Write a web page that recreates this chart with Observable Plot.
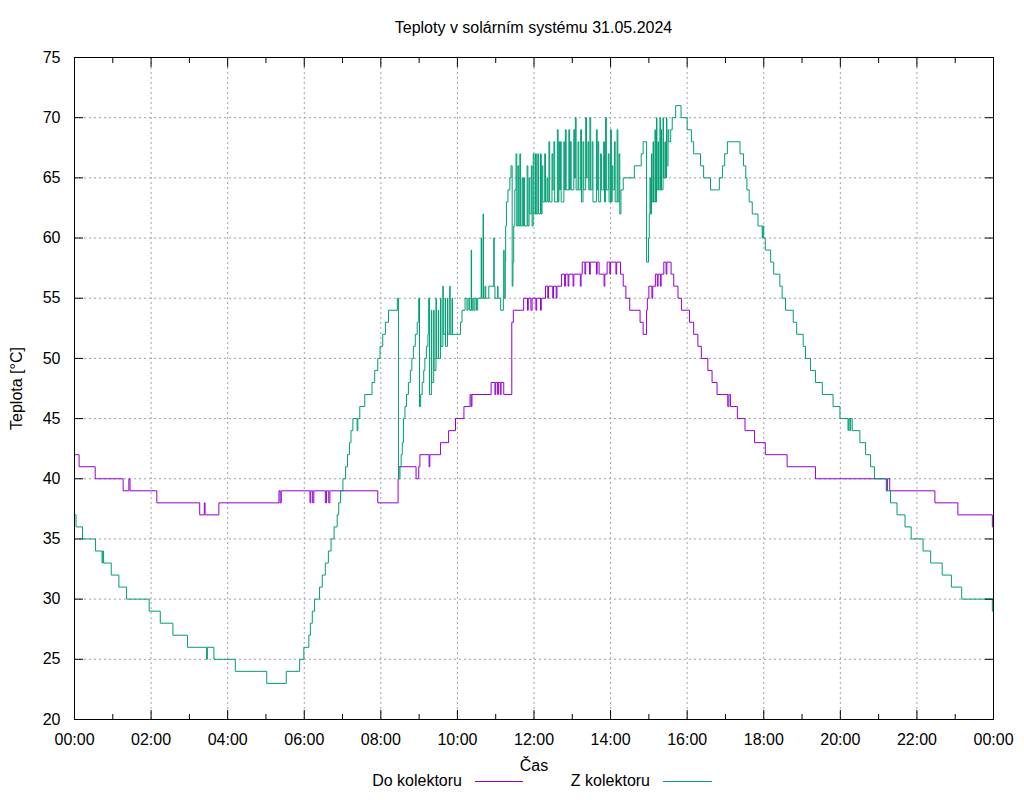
<!DOCTYPE html>
<html>
<head>
<meta charset="utf-8">
<script src="https://cdn.jsdelivr.net/npm/d3@7"></script>
<script src="https://cdn.jsdelivr.net/npm/@observablehq/plot@0.6"></script>
<style>
  body { margin: 0; background: #fff; font-family: "Liberation Sans", Arial, sans-serif; color: #000; }
  #title { width: 1024px; height: 45px; box-sizing: border-box; padding: 18px 31px 0 74px; line-height: 20px; font-size: 16px; text-align: center; }
  #legend { position: relative; width: 1024px; height: 25px; font-size: 16px; }
  #legend .lab { position: absolute; top: -3px; width: 140px; text-align: right; line-height: 18px; }
  #legend svg { position: absolute; top: 0; }
</style>
</head>
<body>
<div id="title">Teploty v solárním systému 31.05.2024</div>
<div id="chart"></div>
<div id="legend"></div>
<script>
const seriesNames = ["Do kolektoru", "Z kolektoru"];
const seriesColors = ["#9400d3", "#009e73"];
const hourTicks = [0, 2, 4, 6, 8, 10, 12, 14, 16, 18, 20, 22, 24];
const minorHourTicks = [1, 3, 5, 7, 9, 11, 13, 15, 17, 19, 21, 23];
const tempTicks = [20, 25, 30, 35, 40, 45, 50, 55, 60, 65, 70, 75];

const doKolektoru = [
[0,42],[0.12,41],[0.54,40],[1.27,39],[1.42,40],[1.45,39],[2.15,38],[3.27,37],[3.39,38],[3.41,37],[3.77,38],
[5.34,39],[5.37,38],[5.40,39],[6.15,38],[6.17,39],[6.22,38],[6.25,39],[6.55,38],[6.58,39],[6.64,38],[6.67,39],
[7.92,38],[8.45,40],[8.47,41],[8.92,40],[8.99,41],[9.02,42],[9.26,41],[9.28,42],[9.56,43],[9.77,44],[9.95,45],
[10.17,46],[10.33,47],[10.36,46],[10.38,47],[10.88,48],[10.98,47],[11.00,48],[11.05,47],[11.07,48],[11.12,47],[11.14,48],[11.21,47],
[11.42,53],[11.46,54],[11.73,55],[11.83,54],[11.85,55],[11.92,54],[11.95,55],[12.05,54],[12.07,55],[12.17,54],[12.19,55],
[12.30,56],[12.36,55],[12.38,56],[12.49,55],[12.51,56],[12.58,55],[12.60,56],[12.72,57],[12.80,56],[12.82,57],[12.89,56],[12.91,57],
[13.02,56],[13.04,57],[13.21,56],[13.23,57],[13.26,58],[13.33,57],[13.35,58],[13.45,57],[13.47,58],[13.63,57],[13.65,58],[13.70,57],
[13.83,56],[13.85,57],[13.91,58],[13.98,57],[14.00,58],[14.14,57],[14.16,58],[14.26,57],[14.33,56],[14.40,55],[14.50,54],[14.77,53],[14.85,52],
[14.94,54],[14.96,55],[15.00,56],[15.08,55],[15.10,56],[15.17,57],[15.22,56],[15.24,57],[15.30,56],[15.32,57],[15.39,58],[15.45,57],[15.47,58],
[15.58,57],[15.65,56],[15.76,55],[15.85,54],[16.06,53],[16.17,52],[16.28,51],[16.37,50],[16.54,49],[16.65,48],[16.78,47],[17.06,46],[17.09,47],[17.13,46],
[17.31,45],[17.51,44],[17.76,43],[18.04,42],[18.61,41],[19.35,40],[21.20,39],[21.23,40],[21.29,39],[22.47,38],[23.07,37],[23.97,36],[24,36]
];

const zKolektoru = [
[0,37],[0.04,36],[0.21,35],[0.55,34],[0.72,33],[0.74,34],[0.76,33],[0.96,32],[1.16,31],[1.36,30],[1.95,29],[2.24,28],[2.57,27],[2.95,26],
[3.45,25],[3.47,26],[3.64,25],[4.20,24],[5.02,23],[5.53,24],[5.88,25],[5.99,26],[6.12,27],[6.16,28],[6.21,29],[6.27,30],[6.40,31],[6.47,32],
[6.55,33],[6.63,34],[6.70,35],[6.78,36],[6.86,37],[6.90,38],[6.95,39],[7.01,40],[7.08,41],[7.13,42],[7.18,43],[7.22,44],[7.27,45],[7.38,44],[7.40,45],
[7.45,46],[7.58,47],[7.77,48],[7.84,49],[7.92,50],[7.98,51],[8.05,52],[8.12,53],[8.20,54],[8.43,55],[8.46,40],
[8.50,41],[8.53,42],[8.56,43],[8.59,45],[8.63,46],[8.67,47],[8.72,48],[8.77,49],[8.81,50],[8.85,51],[8.90,52],[8.95,53],[8.99,55],[9.01,46],
[9.04,47],[9.08,48],[9.12,49],[9.15,50],[9.19,51],[9.23,52],[9.25,55],[9.27,47],[9.32,54],[9.33,48],[9.38,54],[9.39,49],
[9.44,55],[9.45,50],[9.50,54],[9.51,50],[9.56,55],[9.57,51],[9.62,56],[9.63,52],[9.68,55],[9.69,51],
[9.74,55],[9.75,52],[9.80,56],[9.81,52],[9.86,55],[9.87,52],
[10.08,53],[10.12,54],[10.20,55],[10.25,54],[10.28,55],[10.32,54],[10.36,59],[10.37,54],[10.40,55],[10.43,54],[10.46,55],[10.50,54],[10.53,55],
[10.62,60],[10.63,55],[10.67,62],[10.68,55],[10.72,56],[10.74,55],[10.82,56],[10.95,60],[10.96,56],[10.98,55],[11.05,56],[11.06,55],[11.13,54],
[11.20,55],[11.21,59],[11.22,55],[11.25,58],[11.26,61],[11.28,63],[11.32,64],[11.37,65],[11.40,66],[11.43,56],[11.45,58],[11.47,61],[11.50,64],[11.53,67],[11.55,61],
[11.58,66],[11.60,61],[11.63,67],[11.65,61],[11.69,65],[11.71,61],[11.73,65],[11.75,61],[11.82,66],[11.84,61],[11.87,65],[11.89,62],[11.93,66],[11.95,61],
[11.98,67],[12.00,62],[12.04,67],[12.06,62],[12.10,67],[12.12,62],[12.17,67],[12.19,62],[12.21,66],[12.23,63],[12.28,67],[12.30,63],[12.34,65],[12.36,63],
[12.39,68],[12.41,63],[12.47,67],[12.49,64],[12.52,68],[12.54,63],[12.61,69],[12.63,63],[12.65,68],[12.67,64],[12.69,68],[12.71,63],[12.78,68],[12.80,64],
[12.82,69],[12.84,64],[12.91,69],[12.93,64],[12.95,68],[12.97,64],[13.04,69],[13.06,65],[13.08,70],[13.10,64],[13.15,68],[13.17,64],[13.22,69],[13.24,63],
[13.28,68],[13.30,64],[13.35,70],[13.37,65],[13.41,68],[13.43,64],[13.46,70],[13.48,64],[13.52,68],[13.54,63],[13.63,69],[13.65,64],[13.67,68],[13.69,63],
[13.74,67],[13.76,64],[13.82,68],[13.84,63],[13.87,70],[13.89,64],[13.94,67],[13.96,63],[14.00,69],[14.02,63],[14.04,66],[14.06,64],[14.10,68],[14.12,63],
[14.17,69],[14.19,63],[14.22,67],[14.24,62],[14.27,64],[14.33,65],[14.62,66],[14.80,67],[14.85,68],[14.94,58],[14.99,60],[15.01,62],[15.03,65],[15.04,62],
[15.07,67],[15.08,63],[15.11,68],[15.12,63],[15.16,69],[15.17,63],[15.20,70],[15.21,64],[15.24,68],[15.25,64],[15.29,70],[15.30,64],[15.32,69],[15.33,64],
[15.37,70],[15.38,65],[15.42,68],[15.43,65],[15.46,70],[15.47,66],[15.50,69],[15.52,68],[15.57,69],[15.61,70],[15.70,71],[15.84,70],[16.00,69],[16.11,68],
[16.17,67],[16.35,66],[16.43,65],[16.61,64],[16.84,65],[16.92,66],[16.98,67],[17.05,68],[17.38,67],[17.47,66],[17.53,65],[17.56,64],[17.62,63],[17.70,62],
[17.85,61],[17.96,60],[17.98,61],[18.00,60],[18.04,59],[18.18,58],[18.26,57],[18.42,56],[18.48,55],[18.57,54],[18.77,53],[18.86,52],[19.03,51],[19.09,50],
[19.22,49],[19.35,48],[19.53,47],[19.81,46],[19.99,45],[20.20,44],[20.22,45],[20.25,44],[20.27,45],[20.31,44],[20.51,43],[20.66,42],[20.79,41],[20.89,40],
[21.21,39],[21.31,38],[21.48,37],[21.69,36],[21.85,35],[22.16,34],[22.36,33],[22.66,32],[22.90,31],[23.17,30],[23.97,29],[24,29]
];

const rows = [
  ...doKolektoru.map(([h, t]) => ({h, t, s: seriesNames[0]})),
  ...zKolektoru.map(([h, t]) => ({h, t, s: seriesNames[1]}))
];

const fmtHour = d => String(d % 24).padStart(2, "0") + ":00";
const noText = () => "";

const chart = Plot.plot({
  width: 1024,
  height: 730,
  marginTop: 12,
  marginBottom: 56,
  marginLeft: 74,
  marginRight: 31,
  style: {fontFamily: '"Liberation Sans", Arial, sans-serif', fontSize: "16px", background: "#fff", color: "#000", overflow: "visible"},
  x: {domain: [0, 24], axis: null},
  y: {domain: [20, 75], axis: null},
  color: {domain: seriesNames, range: seriesColors},
  marks: [
    Plot.gridX({ticks: hourTicks, stroke: "#a0a0a0", strokeOpacity: 1, strokeDasharray: "2,3"}),
    Plot.gridY({ticks: tempTicks, stroke: "#a0a0a0", strokeOpacity: 1, strokeDasharray: "2,3"}),
    Plot.line(rows, {x: "h", y: "t", z: "s", stroke: "s", curve: "step-after", strokeWidth: 1}),
    Plot.frame({stroke: "#000"}),
    Plot.axisX({ticks: hourTicks, tickSize: -9, tickPadding: 23, tickFormat: fmtHour, label: "Čas", labelAnchor: "center", labelArrow: "none", labelOffset: 51, fontSize: 16}),
    Plot.axisX({ticks: minorHourTicks, tickSize: -5, tickFormat: noText, label: null}),
    Plot.axisX({anchor: "top", ticks: hourTicks, tickSize: -9, tickFormat: noText, label: null}),
    Plot.axisX({anchor: "top", ticks: minorHourTicks, tickSize: -5, tickFormat: noText, label: null}),
    Plot.axisY({ticks: tempTicks, tickSize: -9, tickPadding: 23, label: "Teplota [°C]", labelAnchor: "center", labelArrow: "none", labelOffset: 64, fontSize: 16}),
    Plot.axisY({anchor: "right", ticks: tempTicks, tickSize: -9, tickFormat: noText, label: null})
  ]
});
document.getElementById("chart").appendChild(chart);

const legendLayout = [{textRight: 462, lineX: 475, lineW: 48}, {textRight: 650, lineX: 663, lineW: 49}];
const legend = document.getElementById("legend");
seriesNames.forEach((name, i) => {
  const lab = document.createElement("span");
  lab.className = "lab";
  lab.textContent = name;
  lab.style.left = (legendLayout[i].textRight - 140) + "px";
  legend.appendChild(lab);
  const ns = "http://www.w3.org/2000/svg";
  const svg = document.createElementNS(ns, "svg");
  svg.setAttribute("width", legendLayout[i].lineW);
  svg.setAttribute("height", 12);
  svg.style.left = legendLayout[i].lineX + "px";
  const ln = document.createElementNS(ns, "line");
  ln.setAttribute("x1", 0); ln.setAttribute("x2", legendLayout[i].lineW);
  ln.setAttribute("y1", 6.5); ln.setAttribute("y2", 6.5);
  ln.setAttribute("stroke", seriesColors[i]);
  ln.setAttribute("stroke-width", 1);
  svg.appendChild(ln);
  legend.appendChild(svg);
});
</script>
</body>
</html>
